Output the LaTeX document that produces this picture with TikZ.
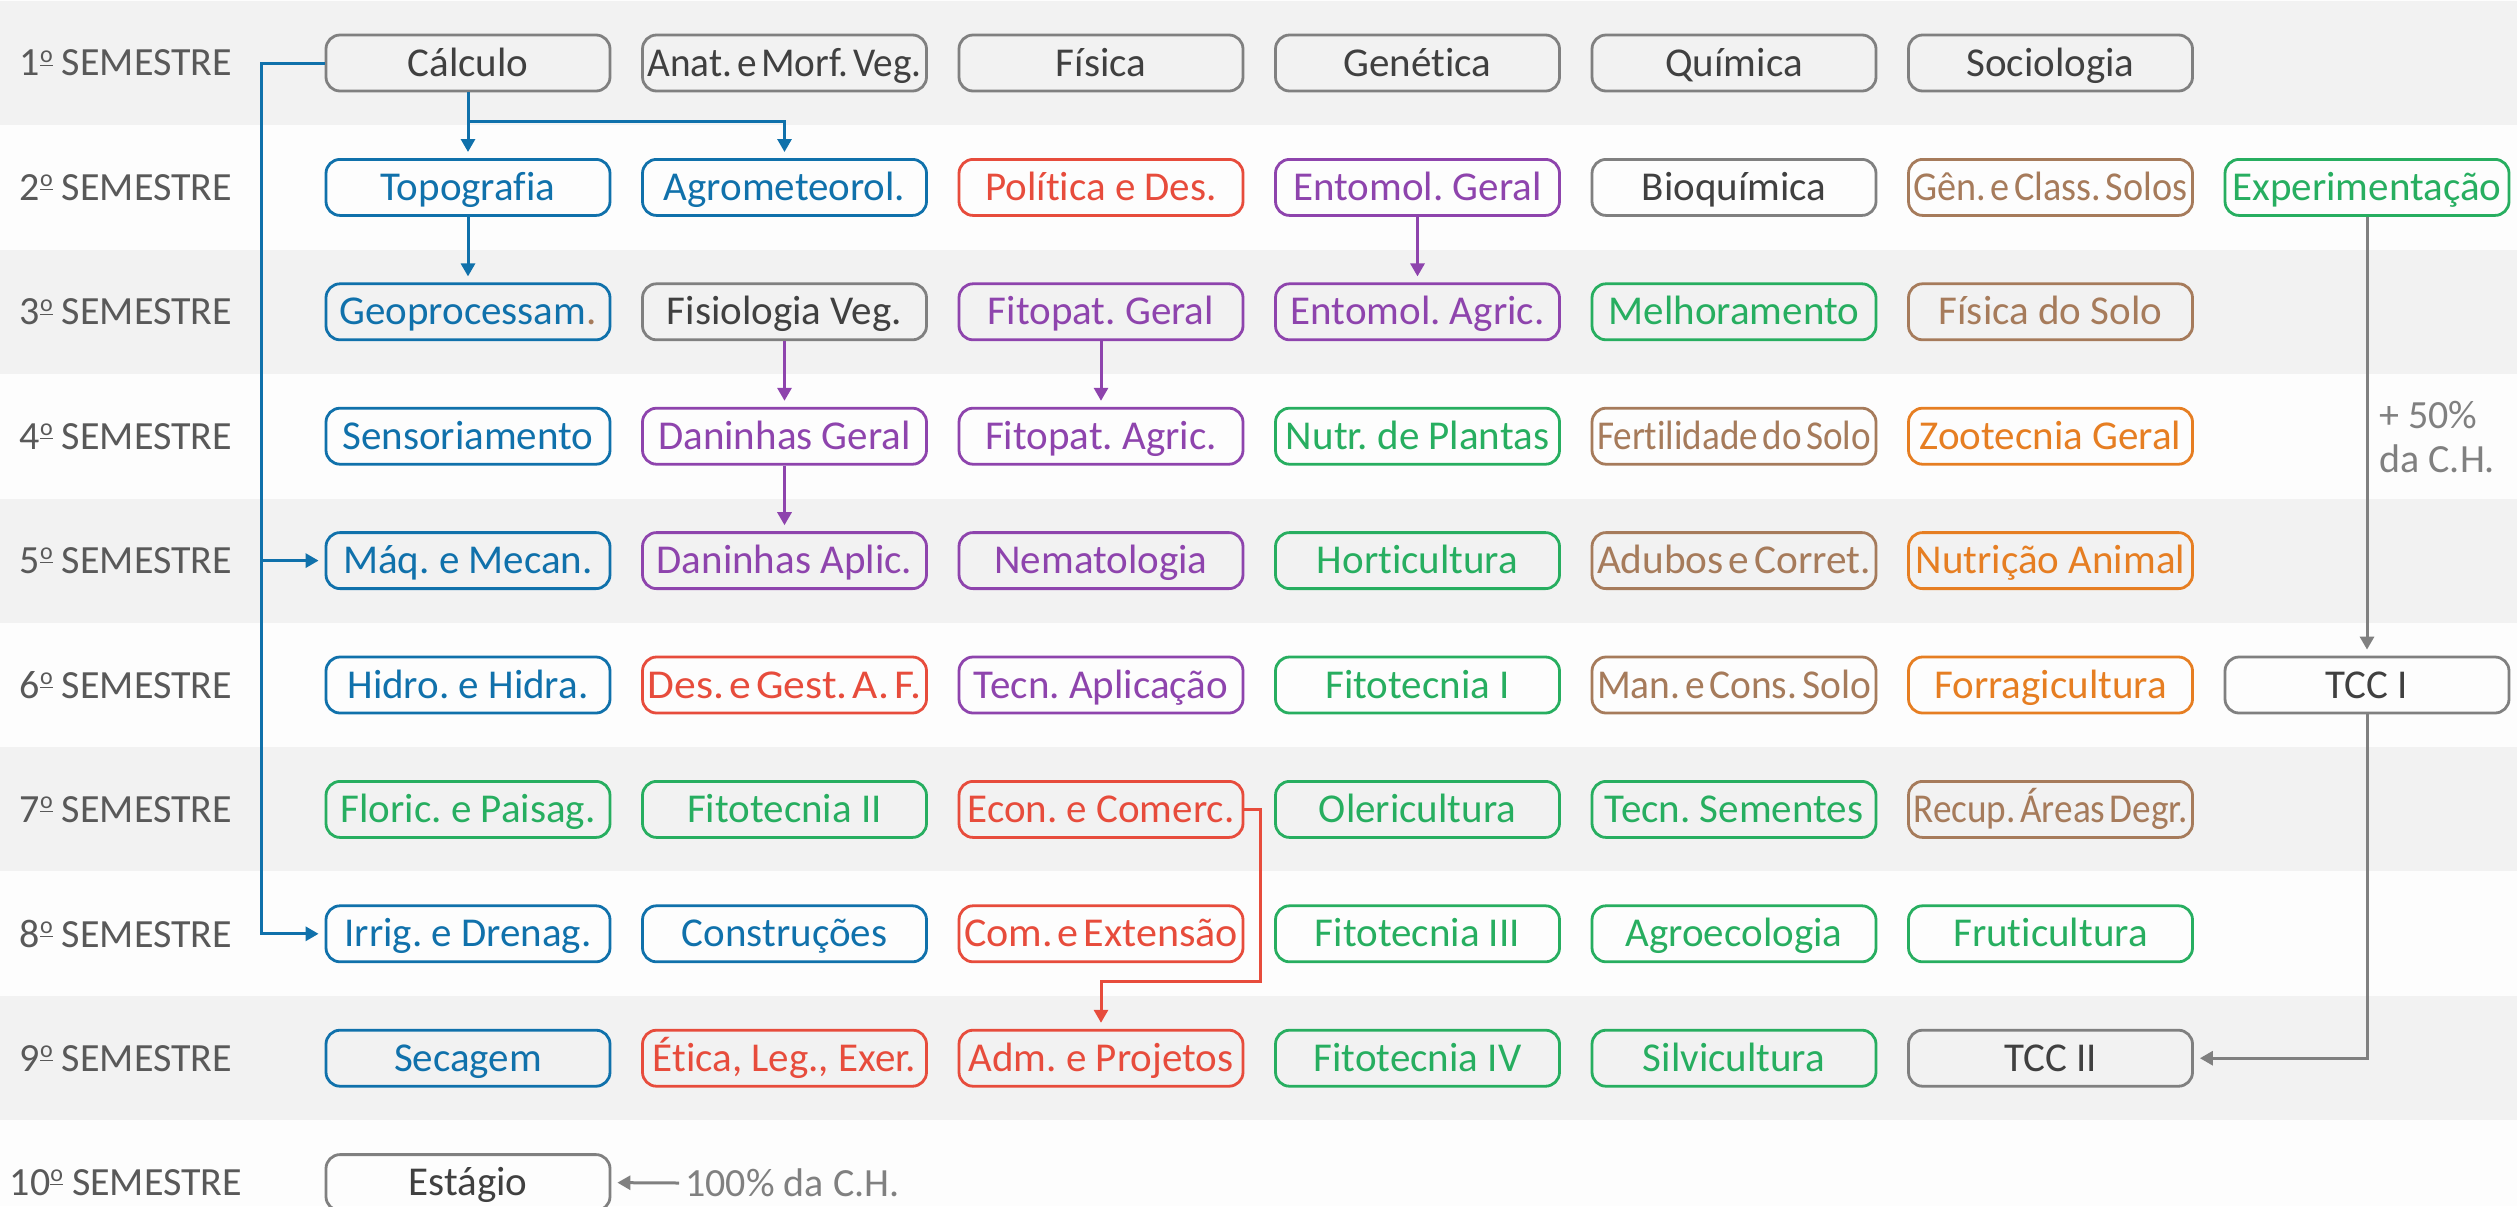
\documentclass[tikz,border=0pt]{standalone}
\usepackage{fontspec}
\usepackage{graphicx}
\setmainfont{Carlito}[Ligatures=NoCommon]
\frenchspacing
\usetikzlibrary{arrows.meta}
\definecolor{cblue}{RGB}{16,113,171}
\definecolor{cred}{RGB}{231,76,60}
\definecolor{cpurple}{RGB}{142,68,173}
\definecolor{cgreen}{RGB}{39,174,96}
\definecolor{cbrown}{RGB}{166,123,91}
\definecolor{corange}{RGB}{230,126,34}
\definecolor{cgray}{RGB}{128,128,128}
\definecolor{ctext}{RGB}{64,64,64}
\definecolor{clabel}{RGB}{89,89,89}
\definecolor{cband}{RGB}{242,242,242}
\definecolor{cbg}{RGB}{253,253,253}
\newlength\fitw
\newlength\fitmax
\setlength\fitmax{137pt}
\newcommand\fit[1]{\settowidth\fitw{#1}\ifdim\fitw>\fitmax\resizebox{\fitmax}{\height}{\spaceskip=0.12em\relax#1}\else#1\fi}
\newcommand\ordo{\raisebox{0.34em}{\fontsize{12}{12}\selectfont\underline{o}}}
\newcommand\subj[5]{\node[subj,#4] (#1) at ({468+(#2-1)*316.5},{63+(#3-1)*124.4}) {\fit{#5}};}
\tikzset{
  subj/.style={draw, rounded corners=7pt, line width=1.4pt, minimum width=142pt,
    minimum height=28pt, inner sep=0pt, text height=17pt, text depth=4pt,
    font=\fontsize{20.5}{24}\selectfont},
  gbx/.style={draw=cgray,text=ctext},
  bbx/.style={draw=cblue,text=cblue},
  rbx/.style={draw=cred,text=cred},
  pbx/.style={draw=cpurple,text=cpurple},
  grbx/.style={draw=cgreen,text=cgreen},
  brbx/.style={draw=cbrown,text=cbrown},
  obx/.style={draw=corange,text=corange},
  lbl/.style={text=clabel, font=\fontsize{20}{24}\selectfont, inner sep=0pt},
  note/.style={text=cgray, font=\fontsize{20}{22}\selectfont, align=left, inner sep=3pt},
  arr/.style={line width=1.5pt, -{Triangle[length=6.5pt,width=7pt]}, shorten >=3pt},
}
\begin{document}
\begin{tikzpicture}[x=0.5pt,y=-0.5pt]
\useasboundingbox (0,0) rectangle (2517,1206);
\fill[cbg] (0,0) rectangle (2517,1206);
\foreach \k in {1,3,5,7,9}
  \fill[cband] (0,{63+(\k-1)*124.4-62}) rectangle (2517,{63+(\k-1)*124.4+62});
\foreach \k in {1,...,10}
  \node[lbl] (s\k) at (126,{63+(\k-1)*124.4}) {{\k}\ordo\ SEMESTRE};
% row 1
\subj{n11}{1}{1}{gbx}{Cálculo}
\subj{n12}{2}{1}{gbx}{Anat. e Morf. Veg.}
\subj{n13}{3}{1}{gbx}{Física}
\subj{n14}{4}{1}{gbx}{Genética}
\subj{n15}{5}{1}{gbx}{Química}
\subj{n16}{6}{1}{gbx}{Sociologia}
% row 2
\subj{n21}{1}{2}{bbx}{Topografia}
\subj{n22}{2}{2}{bbx}{Agrometeorol.}
\subj{n23}{3}{2}{rbx}{Política e Des.}
\subj{n24}{4}{2}{pbx}{Entomol. Geral}
\subj{n25}{5}{2}{gbx}{Bioquímica}
\subj{n26}{6}{2}{brbx}{Gên. e Class. Solos}
\subj{n27}{7}{2}{grbx}{Experimentação}
% row 3
\subj{n31}{1}{3}{bbx}{Geoprocessam\textcolor{cbrown}{.}}
\subj{n32}{2}{3}{gbx}{Fisiologia Veg.}
\subj{n33}{3}{3}{pbx}{Fitopat. Geral}
\subj{n34}{4}{3}{pbx}{Entomol. Agric.}
\subj{n35}{5}{3}{grbx}{Melhoramento}
\subj{n36}{6}{3}{brbx}{Física do Solo}
% row 4
\subj{n41}{1}{4}{bbx}{Sensoriamento}
\subj{n42}{2}{4}{pbx}{Daninhas Geral}
\subj{n43}{3}{4}{pbx}{Fitopat. Agric.}
\subj{n44}{4}{4}{grbx}{Nutr. de Plantas}
\subj{n45}{5}{4}{brbx}{Fertilidade do Solo}
\subj{n46}{6}{4}{obx}{Zootecnia Geral}
% row 5
\subj{n51}{1}{5}{bbx}{Máq. e Mecan.}
\subj{n52}{2}{5}{pbx}{Daninhas Aplic.}
\subj{n53}{3}{5}{pbx}{Nematologia}
\subj{n54}{4}{5}{grbx}{Horticultura}
\subj{n55}{5}{5}{brbx}{Adubos e Corret.}
\subj{n56}{6}{5}{obx}{Nutrição Animal}
% row 6
\subj{n61}{1}{6}{bbx}{Hidro. e Hidra.}
\subj{n62}{2}{6}{rbx}{Des. e Gest. A. F.}
\subj{n63}{3}{6}{pbx}{Tecn. Aplicação}
\subj{n64}{4}{6}{grbx}{Fitotecnia I}
\subj{n65}{5}{6}{brbx}{Man. e Cons. Solo}
\subj{n66}{6}{6}{obx}{Forragicultura}
\subj{n67}{7}{6}{gbx}{TCC I}
% row 7
\subj{n71}{1}{7}{grbx}{Floric. e Paisag.}
\subj{n72}{2}{7}{grbx}{Fitotecnia II}
\subj{n73}{3}{7}{rbx}{Econ. e Comerc.}
\subj{n74}{4}{7}{grbx}{Olericultura}
\subj{n75}{5}{7}{grbx}{Tecn. Sementes}
\subj{n76}{6}{7}{brbx}{Recup. Áreas Degr.}
% row 8
\subj{n81}{1}{8}{bbx}{Irrig. e Drenag.}
\subj{n82}{2}{8}{bbx}{Construções}
\subj{n83}{3}{8}{rbx}{Com. e Extensão}
\subj{n84}{4}{8}{grbx}{Fitotecnia III}
\subj{n85}{5}{8}{grbx}{Agroecologia}
\subj{n86}{6}{8}{grbx}{Fruticultura}
% row 9
\subj{n91}{1}{9}{bbx}{Secagem}
\subj{n92}{2}{9}{rbx}{Ética, Leg., Exer.}
\subj{n93}{3}{9}{rbx}{Adm. e Projetos}
\subj{n94}{4}{9}{grbx}{Fitotecnia IV}
\subj{n95}{5}{9}{grbx}{Silvicultura}
\subj{n96}{6}{9}{gbx}{TCC II}
% row 10
\subj{n101}{1}{10}{gbx}{Estágio}
% notes
\node[note, anchor=west] (half) at (2373,437) {+ 50\%\\da C.H.};
\node[note, anchor=west] (full) at (679,1183) {100\% da C.H.};
% coordinates
\coordinate (brY) at (0,121);
\coordinate (vX) at (261,0);
\coordinate (rX) at (1260,0);
\coordinate (rY) at (0,981);
% blue connectors
\draw[arr,cblue] (n11.south) -- (n21.north);
\draw[arr,cblue] (n11.south) -- (n11.south |- brY) -| (n22.north);
\draw[arr,cblue] (n21.south) -- (n31.north);
\draw[arr,cblue] (n11.west) -- (n11.west -| vX) |- (n81.west);
\draw[arr,cblue] (n51.west -| vX) -- (n51.west);
% purple connectors
\draw[arr,cpurple] (n24.south) -- (n34.north);
\draw[arr,cpurple] (n32.south) -- (n42.north);
\draw[arr,cpurple] (n33.south) -- (n43.north);
\draw[arr,cpurple] (n42.south) -- (n52.north);
% red connector
\draw[arr,cred] (n73.east) -- (n73.east -| rX) -- (rX |- rY) -| (n93.north);
% gray connectors
\draw[arr,cgray] (n27.south) -- (n67.north);
\draw[arr,cgray] (n67.south) |- (n96.east);
\draw[arr,cgray] (full.west) -- (n101.east);
\end{tikzpicture}
\end{document}
